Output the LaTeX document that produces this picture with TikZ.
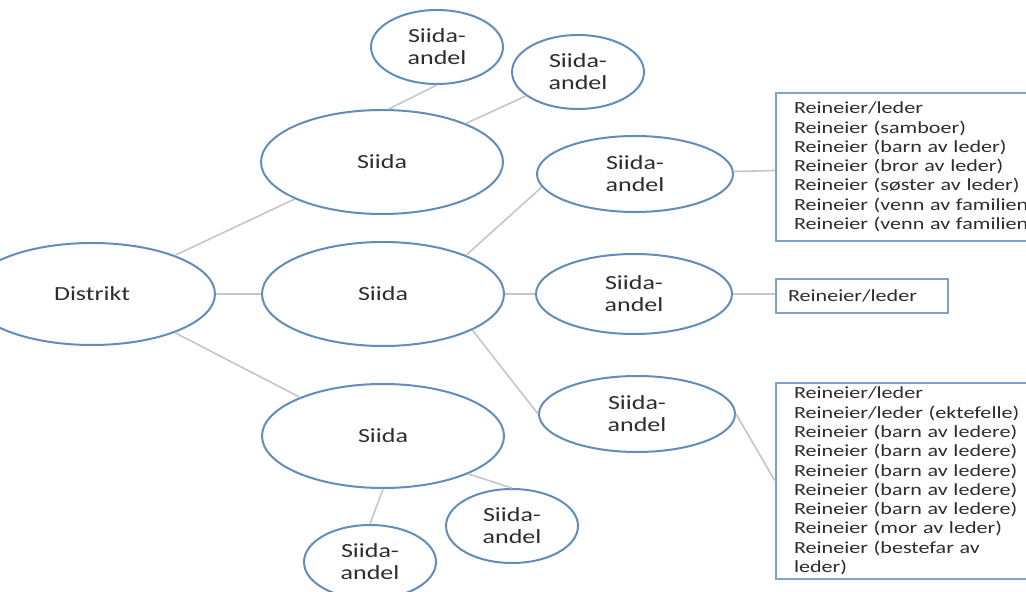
\documentclass[tikz,border=0pt]{standalone}
\usepackage{fontspec}
\setmainfont{Carlito}[FakeStretch=1.3]
\usepackage{tikz}
\usetikzlibrary{shapes.geometric, positioning}
\definecolor{rim}{RGB}{100,140,185}
\definecolor{wire}{RGB}{195,198,204}
\definecolor{boxrim}{RGB}{125,160,205}
\definecolor{ink}{RGB}{45,45,45}

\begin{document}
\begin{tikzpicture}[
                    x=0.5pt, y=-0.5pt,
                    every node/.style={font=\fontsize{10}{11}\selectfont, text=ink},
                    oval/.style={ellipse, draw=rim, line width=1pt, fill=white, inner sep=0pt, align=center},
                    siida/.style={oval, minimum width=121pt, minimum height=52pt},
                    andel/.style={oval, minimum width=66pt, minimum height=37pt},
                    wideandel/.style={oval, minimum width=98pt, minimum height=38pt},
                    distr/.style={oval, minimum width=123pt, minimum height=51pt},
                    list/.style={draw=boxrim, line width=1pt, fill=white, anchor=north west, align=left,
                                 inner xsep=9pt, font=\fontsize{8.5}{9.65}\selectfont},
                    link/.style={draw=wire, line width=0.8pt}
                ]
                  \useasboundingbox (0,0) rectangle (1026,592);
                  \fill[white] (0,0) rectangle (1026,592);
                  \clip (0,0) rectangle (1026,592);

                  \node[distr] (distrikt) at (92,294) {Distrikt};
                  \node[siida] (siida1) at (382,162) {Siida};
                  \node[siida] (siida2) at (383,294) {Siida};
                  \node[siida] (siida3) at (383,436) {Siida};

                  \node[andel] (andel1) at (437,47) {Siida-\\andel};
                  \node[andel] (andel2) at (578,72) {Siida-\\andel};
                  \node[wideandel] (andel3) at (635,174) {Siida-\\andel};
                  \node[wideandel, minimum height=40pt] (andel4) at (634,294) {Siida-\\andel};
                  \node[wideandel] (andel5) at (637,414) {Siida-\\andel};
                  \node[andel] (andel6) at (512,526) {Siida-\\andel};
                  \node[andel] (andel7) at (370,562) {Siida-\\andel};

                  \node[list, text width=122pt, inner ysep=4.5pt] (list1) at (775,92) {Reineier/leder\\
                    Reineier (samboer)\\
                    Reineier (barn av leder)\\
                    Reineier (bror av leder)\\
                    Reineier (søster av leder)\\
                    Reineier (venn av familien)\\
                    Reineier (venn av familien)};
                  \node[list, text width=74pt, inner xsep=6pt, minimum height=17pt] (list2) at (775,278) {Reineier/leder};
                  \node[list, text width=118pt, inner ysep=2pt] (list3) at (775,382) {Reineier/leder\\
                    Reineier/leder (ektefelle)\\
                    Reineier (barn av ledere)\\
                    Reineier (barn av ledere)\\
                    Reineier (barn av ledere)\\
                    Reineier (barn av ledere)\\
                    Reineier (barn av ledere)\\
                    Reineier (mor av leder)\\
                    Reineier (bestefar av\\
                    leder)};

                  \draw[link] (distrikt.25) -- (siida1.203);
                  \draw[link] (distrikt.east) -- (siida2.west);
                  \draw[link] (distrikt.-25) -- (siida3.155);
                  \draw[link] (siida1.83) -- (andel1.south);
                  \draw[link] (siida1) -- (andel2);
                  \draw[link] (siida2.25) -- (andel3.188);
                  \draw[link] (siida2.east) -- (andel4.west);
                  \draw[link] (siida2.-22) -- (andel5.west);
                  \draw[link] (siida3.-24) -- (andel6.north);
                  \draw[link] (siida3.south) -- (andel7.north);
                  \draw[link] (andel3) -- (list1);
                  \draw[link] (andel4.east) -- (andel4.east -| list2.west);
                  \draw[link] (andel5.east) -- (list3.west);
                \end{tikzpicture}
\end{document}
